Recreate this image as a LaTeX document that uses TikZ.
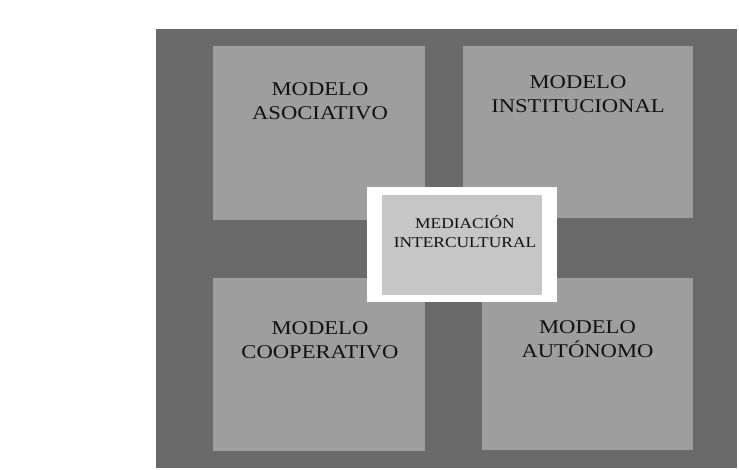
\documentclass[tikz,border=0pt]{standalone}
\usepackage{fontspec}
\setmainfont{Liberation Serif}[FakeStretch=1.16]
\definecolor{fondo}{HTML}{6A6A6A}
\definecolor{modelo}{HTML}{9E9E9E}
\definecolor{centro}{HTML}{C6C6C6}
\definecolor{texto}{HTML}{111111}
\tikzset{
  cuadro/.style={fill=modelo, inner sep=0pt},
  etiqueta/.style={align=center, text=texto, inner sep=0pt,
    font=\fontsize{19.5}{24}\selectfont},
  etiquetamed/.style={align=center, text=texto, inner sep=0pt,
    font=\fontsize{15}{19}\selectfont}
}
\begin{document}
\begin{tikzpicture}[x=1pt, y=-1pt]
    \useasboundingbox[fill=white] (0,0) rectangle (739,470);
    % Fondo oscuro
    \fill[fondo] (156,29) rectangle (737,468);
    % Modelos
    \node[cuadro, minimum width=212pt, minimum height=174pt] (asoc) at (319,133) {};
    \node[cuadro, minimum width=230pt, minimum height=172pt] (inst) at (578,132) {};
    \node[cuadro, minimum width=212pt, minimum height=173pt] (coop) at (319,364.5) {};
    \node[cuadro, minimum width=211pt, minimum height=172pt] (auto) at (587.5,364) {};
    % Mediacion
    \node[fill=white, minimum width=190pt, minimum height=115pt, inner sep=0pt] (medmarco) at (462,244.5) {};
    \node[fill=centro, minimum width=160pt, minimum height=100pt, inner sep=0pt] (med) at (462,245) {};
    % Etiquetas
    \node[etiqueta] (tasoc) at (320,101.5) {MODELO\\ASOCIATIVO};
    \node[etiqueta] (tinst) at (578,94) {MODELO\\INSTITUCIONAL};
    \node[etiqueta] (tcoop) at (320,340.5) {MODELO\\COOPERATIVO};
    \node[etiqueta] (tauto) at (587.5,339) {MODELO\\AUTÓNOMO};
    \node[etiquetamed] (tmed) at (465,232) {MEDIACIÓN\\INTERCULTURAL};
\end{tikzpicture}
\end{document}
